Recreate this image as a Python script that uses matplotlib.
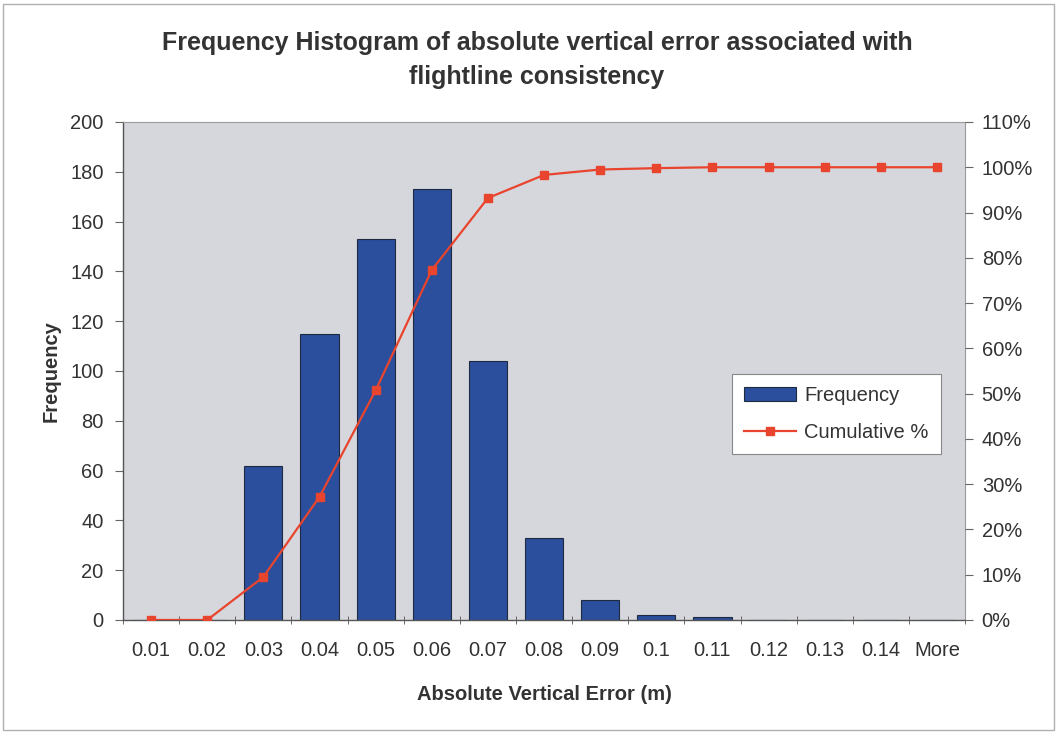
import numpy as np
import matplotlib
matplotlib.use('Agg')
import matplotlib.pyplot as plt
from matplotlib.patches import Rectangle
from matplotlib.ticker import FuncFormatter, MultipleLocator

matplotlib.rcParams['font.family'] = ['Liberation Sans', 'DejaVu Sans']

# data
bins = ['0.01', '0.02', '0.03', '0.04', '0.05', '0.06', '0.07', '0.08',
        '0.09', '0.1', '0.11', '0.12', '0.13', '0.14', 'More']
frequency = [0, 0, 62, 115, 153, 173, 104, 33, 8, 2, 1, 0, 0, 0, 0]
cumulative_pct = [0, 0, 9.5, 27.2, 50.7, 77.3, 93.2, 98.3, 99.5, 99.8,
                  100, 100, 100, 100, 100]

BAR_BLUE = '#2B4F9C'
LINE_RED = '#E8442E'
PLOT_BG = '#D6D7DC'
TXT = '#333333'
FS = 14.5

fig = plt.figure(figsize=(10.57, 7.33), dpi=100)
fig.patch.set_facecolor('white')
ax = fig.add_axes([0.1164, 0.1542, 0.7966, 0.6794])
ax.set_facecolor(PLOT_BG)

x = np.arange(len(bins))
ax.bar(x, frequency, width=0.68, color=BAR_BLUE, edgecolor='#1E2A40',
       linewidth=0.8, label='Frequency', zorder=2)

ax.set_xlim(-0.5, len(bins) - 0.5)
ax.set_ylim(0, 200)
ax.yaxis.set_major_locator(MultipleLocator(20))
ax.set_xticks(x)
ax.set_xticklabels(bins)
ax.set_xticks(np.arange(-0.5, len(bins), 1.0), minor=True)
ax.tick_params(axis='x', which='major', length=0, pad=15, labelsize=FS,
               colors=TXT)
ax.tick_params(axis='x', which='minor', length=6, direction='inout',
               color='#555555')
ax.tick_params(axis='y', length=6, direction='out', labelsize=FS,
               colors=TXT, color='#666666', pad=8)

for side in ['top', 'right']:
    ax.spines[side].set_color('#9A9A9A')
for side in ['left', 'bottom']:
    ax.spines[side].set_color('#555555')
    ax.spines[side].set_linewidth(1.0)

ax.set_ylabel('Frequency', fontsize=FS, fontweight='bold', color=TXT,
              labelpad=7)
ax.set_xlabel('Absolute Vertical Error (m)', fontsize=FS, fontweight='bold',
              color=TXT, labelpad=18)

ax2 = ax.twinx()
ax2.plot(x, cumulative_pct, '-s', color=LINE_RED, markersize=5.5,
         linewidth=1.6, label='Cumulative %', zorder=3)
ax2.set_ylim(0, 110)
ax2.yaxis.set_major_locator(MultipleLocator(10))
ax2.yaxis.set_major_formatter(FuncFormatter(lambda v, p: f'{v:.0f}%'))
ax2.tick_params(axis='y', length=6, direction='out', labelsize=FS,
                colors=TXT, color='#666666', pad=6)
for side in ax2.spines:
    ax2.spines[side].set_visible(False)

h1, l1 = ax.get_legend_handles_labels()
h2, l2 = ax2.get_legend_handles_labels()
leg = ax2.legend(h1 + h2, l1 + l2, loc='upper left',
                 bbox_to_anchor=(0.711, 0.515), fontsize=FS, frameon=True,
                 fancybox=False, edgecolor='#888888', framealpha=1.0,
                 handlelength=2.6, handletextpad=0.4, borderpad=0.6,
                 labelspacing=0.9)
leg.get_frame().set_linewidth(0.8)
for t in leg.get_texts():
    t.set_color(TXT)

fig.text(0.508, 0.918, 'Frequency Histogram of absolute vertical error associated with\nflightline consistency',
         ha='center', va='center', fontsize=18, fontweight='bold',
         color=TXT, linespacing=1.5)

# outer chart border
fig.patches.append(Rectangle((0.003, 0.004), 0.994, 0.99, transform=fig.transFigure,
                             fill=False, edgecolor='#B0B0B0', linewidth=1.0))

fig.savefig('out.png', dpi=100)
